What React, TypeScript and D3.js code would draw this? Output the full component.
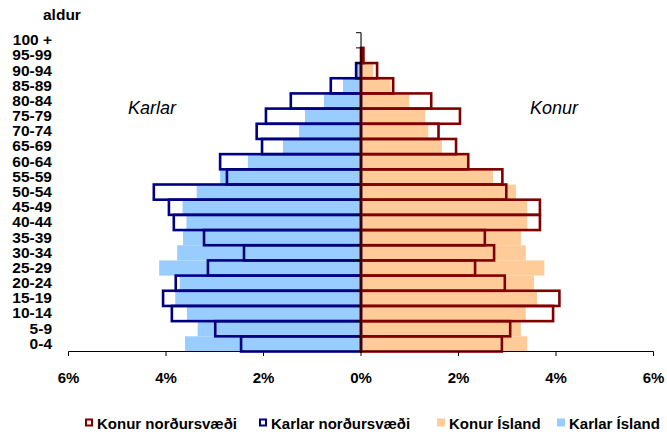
import React from "react";
import * as d3 from "d3";

const ages = ["0-4", "5-9", "10-14", "15-19", "20-24", "25-29", "30-34", "35-39", "40-44", "45-49", "50-54", "55-59", "60-64", "65-69", "70-74", "75-79", "80-84", "85-89", "90-94", "95-99", "100 +"];
const karlarIsland = [3.61, 3.35, 3.57, 3.81, 3.72, 4.14, 3.77, 3.65, 3.58, 3.66, 3.37, 2.89, 2.32, 1.6, 1.27, 1.15, 0.76, 0.37, 0.09, 0.02, 0.003];
const karlarNord = [2.46, 2.99, 3.88, 4.06, 3.8, 3.14, 2.4, 3.22, 3.84, 3.94, 4.25, 2.75, 2.89, 2.03, 2.14, 1.95, 1.44, 0.62, 0.1, 0, 0];
const konurIsland = [3.41, 3.28, 3.38, 3.61, 3.55, 3.76, 3.38, 3.28, 3.41, 3.41, 3.18, 2.71, 2.2, 1.66, 1.38, 1.32, 0.99, 0.61, 0.25, 0.06, 0.02];
const konurNord = [2.89, 3.06, 3.94, 4.07, 2.95, 2.34, 2.73, 2.54, 3.67, 3.67, 2.98, 2.9, 2.2, 1.95, 1.59, 2.03, 1.44, 0.66, 0.33, 0.05, 0];
const xTicks = [-6, -4, -2, 0, 2, 4, 6];
const legendItems = [
  { label: "Konur norðursvæði", kind: "outline", color: "#800000" },
  { label: "Karlar norðursvæði", kind: "outline", color: "#000080" },
  { label: "Konur Ísland", kind: "fill", color: "#FFCC99" },
  { label: "Karlar Ísland", kind: "fill", color: "#99CCFF" },
];
const legendX = [85, 259, 437, 557];

const FONT = "Arial, 'Liberation Sans', sans-serif";

export default function App() {
  const W = 667, H = 434;
  const x = d3.scaleLinear().domain([-6, 6]).range([68.5, 653.5]);
  const y = d3.scaleBand<string>().domain(ages).range([351.5, 32.7]).padding(0);
  const bw = y.bandwidth();
  const x0 = x(0);
  const boundaries = d3.range(ages.length + 1).map((i) => 32.7 + i * bw);

  return (
    <svg width={W} height={H} style={{ position: "absolute", left: 0, top: 0, background: "#fff" }} fontFamily={FONT}>
      <rect x={0} y={0} width={W} height={H} fill="#fff" />
      {/* filled bars: Ísland */}
      {ages.map((a, i) => (
        <rect key={"ki" + a} x={x(-karlarIsland[i])} y={y(a)} width={x0 - x(-karlarIsland[i])} height={bw} fill="#99CCFF" />
      ))}
      {ages.map((a, i) => (
        <rect key={"ko" + a} x={x0} y={y(a)} width={x(konurIsland[i]) - x0} height={bw} fill="#FFCC99" />
      ))}
      {/* outline bars: norðursvæði */}
      {ages.map((a, i) =>
        karlarNord[i] > 0 ? (
          <rect key={"kn" + a} x={x(-karlarNord[i])} y={y(a)} width={x0 - x(-karlarNord[i])} height={bw} fill="none" stroke="#000080" strokeWidth={2.6} />
        ) : null
      )}
      {ages.map((a, i) =>
        konurNord[i] > 0 ? (
          <rect key={"kon" + a} x={x0} y={y(a)} width={x(konurNord[i]) - x0} height={bw} fill="none" stroke="#800000" strokeWidth={2.6} />
        ) : null
      )}
      {/* vertical axis */}
      <line x1={x0} x2={x0} y1={32.7} y2={351.5} stroke="#000" strokeWidth={1} />
      {boundaries.map((b, i) => (
        <line key={"vt" + i} x1={x0 - 5} x2={x0} y1={b} y2={b} stroke="#000" strokeWidth={1} />
      ))}
      {/* x axis */}
      <line x1={x(-6)} x2={x(6)} y1={351.5} y2={351.5} stroke="#000" strokeWidth={1} />
      {xTicks.map((t) => (
        <g key={"xt" + t}>
          <line x1={x(t)} x2={x(t)} y1={351.5} y2={356} stroke="#000" strokeWidth={1} />
          <text x={x(t)} y={382.5} textAnchor="middle" fontSize={15} fontWeight="bold" fill="#000">
            {Math.abs(t) + "%"}
          </text>
        </g>
      ))}
      {/* category labels */}
      {ages.map((a) => (
        <text key={"al" + a} x={52} y={(y(a) as number) + bw / 2 + 4.9} textAnchor="end" fontSize={15.5} fontWeight="bold" fill="#000">
          {a}
        </text>
      ))}
      <text x={43} y={20} fontSize={15.5} fontWeight="bold" fill="#000">aldur</text>
      <text x={128} y={113.5} fontSize={18} fontStyle="italic" fill="#000">Karlar</text>
      <text x={530} y={113.5} fontSize={18} fontStyle="italic" fill="#000">Konur</text>
      {/* legend */}
      {legendItems.map((it, i) => (
        <g key={"lg" + i}>
          {it.kind === "outline" ? (
            <rect x={legendX[i] + 1} y={419.5} width={6} height={6} fill="#fff" stroke={it.color} strokeWidth={2} />
          ) : (
            <rect x={legendX[i]} y={418.5} width={8} height={8} fill={it.color} />
          )}
          <text x={legendX[i] + 12} y={428.5} fontSize={15} fontWeight="bold" fill="#000">
            {it.label}
          </text>
        </g>
      ))}
    </svg>
  );
}
